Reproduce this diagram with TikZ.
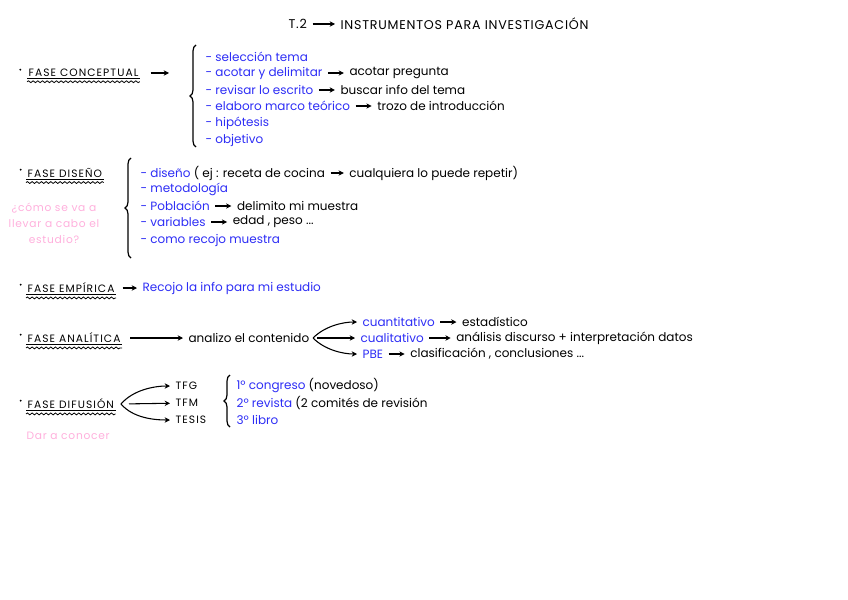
\documentclass[tikz,border=0pt]{standalone}
\usepackage{fontspec}
\setmainfont{Poppins}
\newfontfamily\capsfont[LetterSpace=10]{Poppins}
\newfontfamily\titlefont[LetterSpace=6]{Poppins}
\newfontfamily\notefont[LetterSpace=7]{Poppins}
\usetikzlibrary{positioning, arrows.meta, decorations.pathmorphing, decorations.pathreplacing}
\definecolor{inkblue}{RGB}{45,45,245}
\definecolor{inkpink}{RGB}{255,175,220}

\begin{document}
\begin{tikzpicture}[
    x=0.75pt, y=-0.75pt,
    % ====================
    % ESTILOS
    % ====================
    item_black/.style={
        anchor=west, inner sep=1pt, text=black,
        font=\fontsize{9}{10}\selectfont
    },
    item_blue/.style={item_black, text=inkblue},
    fase_style/.style={
        anchor=west, inner sep=1pt, text=black,
        font=\capsfont\fontsize{8}{9}\selectfont
    },
    title_style/.style={
        anchor=west, inner sep=1pt, text=black,
        font=\titlefont\fontsize{9.5}{11}\selectfont
    },
    pink_note/.style={
        inner sep=1pt, text=inkpink, align=center,
        font=\notefont\fontsize{8}{12}\selectfont
    },
    line/.style={
        line width=0.8pt, draw=black, -{Stealth[length=4pt, width=4pt]},
        shorten <=3pt, shorten >=3pt
    },
    underline_wave/.style={
        line width=0.6pt, decorate,
        decoration={snake, amplitude=0.7pt, segment length=3.5pt}
    },
    brace_style/.style={
        line width=0.9pt, decorate,
        decoration={brace, amplitude=4.5pt}
    },
    node distance=18pt
]

\useasboundingbox (0,0) rectangle (848,599);

% ====================
% TITULO
% ====================
\node[title_style] (t2) at (287,24) {T.2};
\node[title_style] (tins) at (339,24) {INSTRUMENTOS PARA INVESTIGACIÓN};
\draw[line] (t2) -- (tins);

% ====================
% FASE CONCEPTUAL
% ====================
\node[fase_style] (fconc) at (27,73) {FASE CONCEPTUAL};
\fill ([xshift=-5pt, yshift=2.5pt]fconc.west) circle (0.8pt);
\draw[line width=0.6pt] (fconc.south west) -- (fconc.south east);
\draw[underline_wave] ([yshift=-2.5pt]fconc.south west) -- ([yshift=-2.5pt]fconc.south east);
\coordinate (fconc_end) at (173,73);
\draw[line] (fconc.east) ++(5pt,0) -- (fconc_end);

\coordinate (bconc_b) at (196,147);
\coordinate (bconc_t) at (196,45);
\draw[brace_style] (bconc_b) -- (bconc_t);

\node[item_blue] (c1) at (204,57) {- selección tema};
\node[item_blue] (c2) at (204,73) {- acotar y delimitar};
\node[item_black, right=of c2] (c2b) {acotar pregunta};
\node[item_blue] (c3) at (204,90) {- revisar lo escrito};
\node[item_black, right=of c3] (c3b) {buscar info del tema};
\node[item_blue] (c4) at (204,106) {- elaboro marco teórico};
\node[item_black, right=of c4] (c4b) {trozo de introducción};
\node[item_blue] (c5) at (204,123) {- hipótesis};
\node[item_blue] (c6) at (204,140) {- objetivo};

\draw[line] (c2) -- (c2b);
\draw[line] (c3) -- (c3b);
\draw[line] (c4) -- (c4b);

% ====================
% FASE DISEÑO
% ====================
\node[fase_style] (fdis) at (26,173) {FASE DISEÑO};
\fill ([xshift=-4pt, yshift=2.5pt]fdis.west) circle (0.8pt);
\draw[line width=0.6pt] (fdis.south west) -- (fdis.south east);
\draw[underline_wave] ([yshift=-2.5pt]fdis.south west) -- ([yshift=-2.5pt]fdis.south east);
\node[pink_note] (fdis_q) at (54,223) {¿cómo se va a\\llevar a cabo el\\estudio?};

\coordinate (bdis_b) at (131,258);
\coordinate (bdis_t) at (131,158);
\draw[brace_style] (bdis_b) -- (bdis_t);

\node[item_black] (d1) at (139,173) {\textcolor{inkblue}{- diseño} ( ej : receta de cocina};
\node[item_black, right=16pt of d1] (d1b) {cualquiera lo puede repetir)};
\node[item_blue] (d2) at (139,189) {- metodología};
\node[item_blue] (d3) at (139,206) {- Población};
\node[item_black, right=of d3] (d3b) {delimito mi muestra};
\node[item_blue] (d4) at (139,222) {- variables};
\node[item_black, right=of d4] (d4b) {edad , peso ...};
\node[item_blue] (d5) at (139,240) {- como recojo muestra};

\draw[line] (d1) -- (d1b);
\draw[line] (d3) -- (d3b);
\draw[line] (d4) -- (d4b);

% ====================
% FASE EMPIRICA
% ====================
\node[fase_style] (femp) at (26,288) {FASE EMPÍRICA};
\fill ([xshift=-4pt, yshift=2.5pt]femp.west) circle (0.8pt);
\draw[line width=0.6pt] (femp.south west) -- (femp.south east);
\draw[underline_wave] ([yshift=-2.5pt]femp.south west) -- ([yshift=-2.5pt]femp.south east);
\node[item_blue] (emp1) at (141,288) {Recojo la info para mi estudio};
\draw[line, shorten <=5pt] (femp) -- (emp1);

% ====================
% FASE ANALITICA
% ====================
\node[fase_style] (fana) at (26,338) {FASE ANALÍTICA};
\fill ([xshift=-4pt, yshift=2.5pt]fana.west) circle (0.8pt);
\draw[line width=0.6pt] (fana.south west) -- (fana.south east);
\draw[underline_wave] ([yshift=-2.5pt]fana.south west) -- ([yshift=-2.5pt]fana.south east);
\node[item_black] (ana1) at (187,338) {analizo el contenido};
\draw[line, shorten <=6pt] (fana) -- (ana1);
\coordinate (ana_split) at (313,338);

\node[item_blue] (a1) at (361,322) {cuantitativo};
\node[item_black, right=of a1] (a1b) {estadístico};
\node[item_blue] (a2) at (359,338) {cualitativo};
\node[item_black, right=22pt of a2] (a2b) {análisis discurso + interpretación datos};
\node[item_blue] (a3) at (361,354) {PBE};
\node[item_black, right=of a3] (a3b) {clasificación , conclusiones ...};

\draw[line, shorten <=0pt] (ana_split) .. controls +(12,-12) and +(-18,0) .. (a1.west);
\draw[line] (ana_split) -- (a2);
\draw[line, shorten <=0pt] (ana_split) .. controls +(12,12) and +(-18,0) .. (a3.west);
\draw[line] (a1) -- (a1b);
\draw[line] (a2) -- (a2b);
\draw[line] (a3) -- (a3b);

% ====================
% FASE DIFUSION
% ====================
\node[fase_style] (fdif) at (26,404) {FASE DIFUSIÓN};
\fill ([xshift=-4pt, yshift=2.5pt]fdif.west) circle (0.8pt);
\draw[line width=0.6pt] (fdif.south west) -- (fdif.south east);
\draw[underline_wave] ([yshift=-2.5pt]fdif.south west) -- ([yshift=-2.5pt]fdif.south east);
\node[pink_note, anchor=west] (fdif_q) at (25,436) {Dar a conocer};
\coordinate (dif_split) at (121,404);

\node[fase_style] (tfg) at (174,386) {TFG};
\node[fase_style] (tfm) at (174,403) {TFM};
\node[fase_style] (tesis) at (174,420) {TESIS};

\draw[line, shorten <=0pt] (dif_split) .. controls +(12,-14) and +(-20,0) .. (tfg.west);
\draw[line, shorten <=6pt] (dif_split) -- (tfm);
\draw[line, shorten <=0pt] (dif_split) .. controls +(12,14) and +(-20,0) .. (tesis.west);

\coordinate (bdif_b) at (230,427);
\coordinate (bdif_t) at (230,375);
\draw[brace_style] (bdif_b) -- (bdif_t);

\node[item_black] (p1) at (235,386) {\textcolor{inkblue}{1º congreso} (novedoso)};
\node[item_black] (p2) at (235,403) {\textcolor{inkblue}{2º revista} (2 comités de revisión};
\node[item_black] (p3) at (235,420) {\textcolor{inkblue}{3º libro}};

\end{tikzpicture}
\end{document}
